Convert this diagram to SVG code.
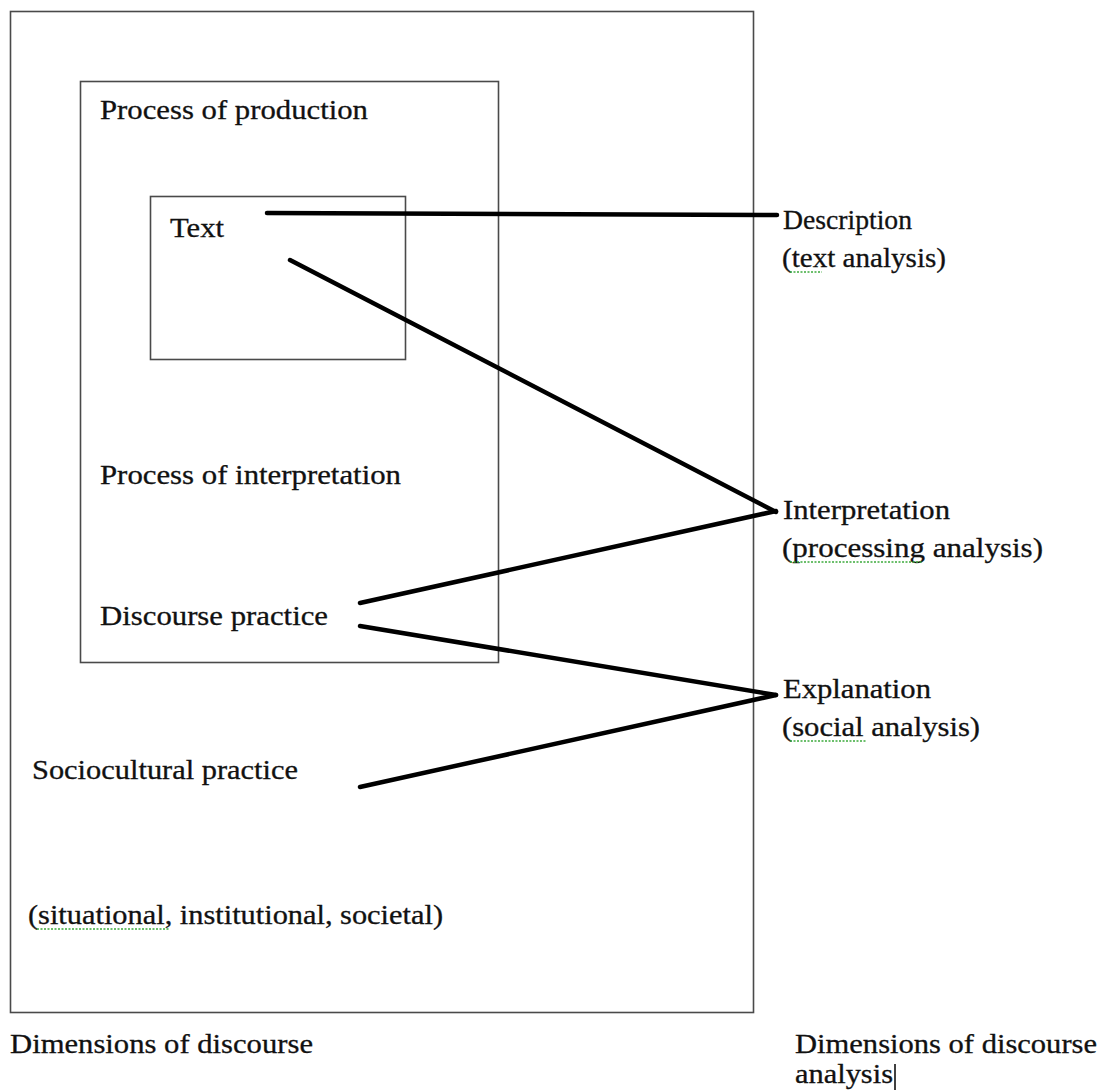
<svg xmlns="http://www.w3.org/2000/svg" width="1111" height="1091" viewBox="0 0 1111 1091">
<style>
.box{fill:none;stroke:#4a4a4a;stroke-width:1.6}
.t{font-family:"Liberation Serif","Times New Roman",serif;font-size:27px;fill:#111;stroke:#111;stroke-width:0.3}
.c{stroke:#000;stroke-width:4.5;stroke-linecap:round;fill:none}
.sq{stroke:#3cab3c;stroke-width:1.4;stroke-dasharray:2 1.5;fill:none}
</style>
<rect width="1111" height="1091" fill="#fff"/>
<g id="outer">
<rect class="box" x="10.5" y="11.5" width="743" height="1001"/>
<text class="t" x="28" y="924" textLength="415" lengthAdjust="spacingAndGlyphs">(situational, institutional, societal)</text>
<path class="sq" d="M37 929 L170 929"/>
<text class="t" x="32" y="779" textLength="266" lengthAdjust="spacingAndGlyphs">Sociocultural practice</text>
</g>
<g id="middle">
<rect class="box" x="80.5" y="81.5" width="418" height="581"/>
<text class="t" x="100" y="119" textLength="268" lengthAdjust="spacingAndGlyphs">Process of production</text>
<text class="t" x="100" y="484" textLength="301" lengthAdjust="spacingAndGlyphs">Process of interpretation</text>
<text class="t" x="100" y="625" textLength="228" lengthAdjust="spacingAndGlyphs">Discourse practice</text>
</g>
<g id="inner">
<rect class="box" x="150.5" y="196.5" width="255" height="163"/>
<text class="t" x="170" y="237" textLength="54" lengthAdjust="spacingAndGlyphs">Text</text>
</g>
<g id="description">
<text class="t" x="783" y="229" textLength="129" lengthAdjust="spacingAndGlyphs">Description</text>
<text class="t" x="782" y="267" textLength="164" lengthAdjust="spacingAndGlyphs">(text analysis)</text>
<path class="sq" d="M790 272 L822 272"/>
</g>
<g id="interpretation">
<text class="t" x="783" y="519" textLength="167" lengthAdjust="spacingAndGlyphs">Interpretation</text>
<text class="t" x="782" y="557" textLength="261" lengthAdjust="spacingAndGlyphs">(processing analysis)</text>
<path class="sq" d="M790 562 L923 562"/>
</g>
<g id="explanation">
<text class="t" x="783" y="698" textLength="148" lengthAdjust="spacingAndGlyphs">Explanation</text>
<text class="t" x="782" y="736" textLength="198" lengthAdjust="spacingAndGlyphs">(social analysis)</text>
<path class="sq" d="M790 741 L867 741"/>
</g>
<g id="captions">
<text class="t" x="10" y="1053" textLength="303" lengthAdjust="spacingAndGlyphs">Dimensions of discourse</text>
<text class="t" x="795" y="1053" textLength="302" lengthAdjust="spacingAndGlyphs">Dimensions of discourse</text>
<text class="t" x="795" y="1083" textLength="98" lengthAdjust="spacingAndGlyphs">analysis</text>
<path d="M895 1064 L895 1090" stroke="#000" stroke-width="1.5"/>
</g>
<g id="connectors">
<path class="c" d="M267 213 L777 215"/>
<path class="c" d="M290 260 L776 512"/>
<path class="c" d="M360 603 L776 511"/>
<path class="c" d="M360 626 L776 695"/>
<path class="c" d="M360 787 L776 695"/>
</g>
</svg>
